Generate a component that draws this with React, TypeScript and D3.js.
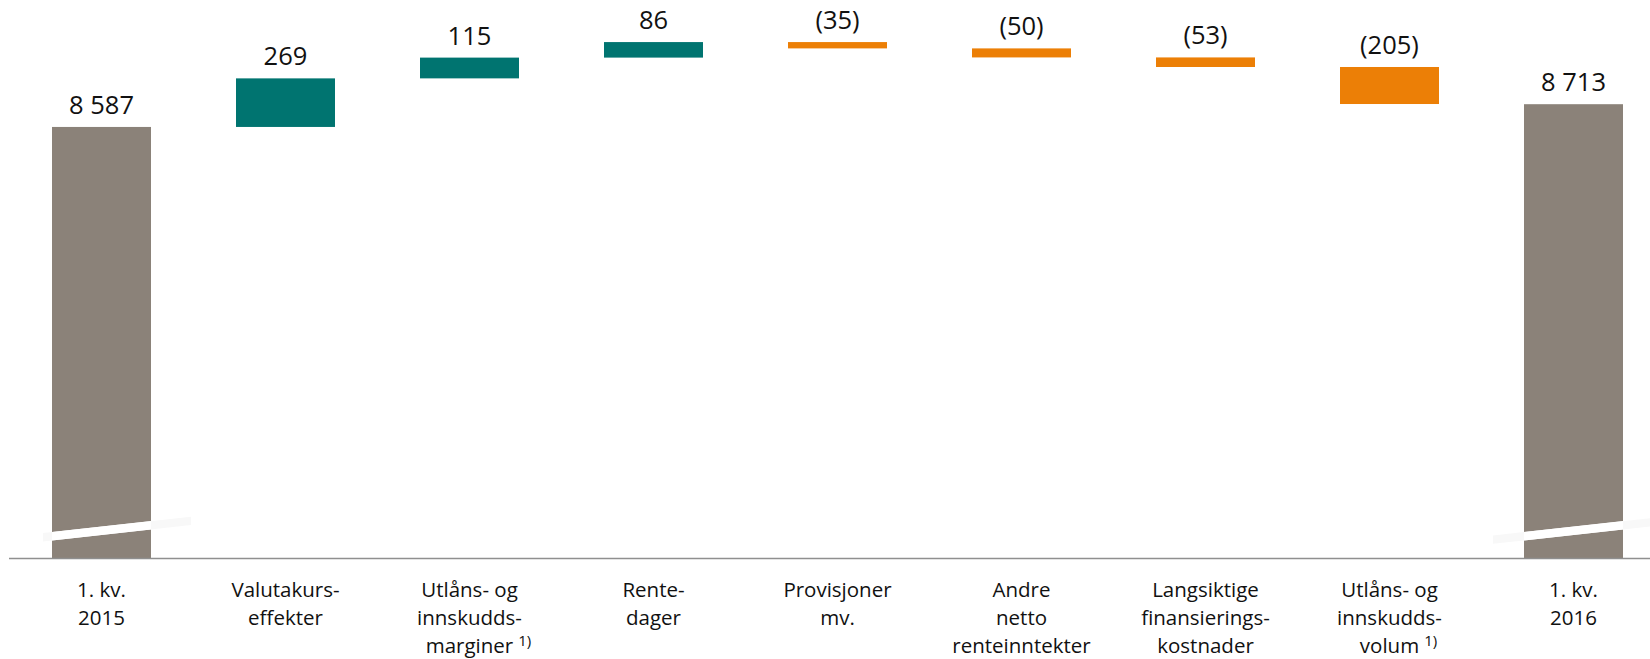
import React, { useRef, useEffect } from "react";
import * as d3 from "d3";

const categories: string[][] = [
  ["1. kv.", "2015"],
  ["Valutakurs-", "effekter"],
  ["Utlåns- og", "innskudds-", "marginer"],
  ["Rente-", "dager"],
  ["Provisjoner", "mv."],
  ["Andre", "netto", "renteinntekter"],
  ["Langsiktige", "finansierings-", "kostnader"],
  ["Utlåns- og", "innskudds-", "volum"],
  ["1. kv.", "2016"],
];
const footnotes = ["", "", "1)", "", "", "", "", "1)", ""];
const barTypes = ["total", "delta", "delta", "delta", "delta", "delta", "delta", "delta", "total"];
const values = [8587, 269, 115, 86, -35, -50, -53, -205, 8713];
const valueLabels = ["8 587", "269", "115", "86", "(35)", "(50)", "(53)", "(205)", "8 713"];
const yDomain = [6200, 9290];

const W = 1650;
const H = 659;
const FONT = "'Open Sans', 'Noto Sans', sans-serif";
const C_TOTAL = "#8b8279";
const C_UP = "#007470";
const C_DOWN = "#ec7f06";

export default function App() {
  const ref = useRef<SVGSVGElement>(null);
  useEffect(() => {
    const svg = d3.select(ref.current);
    svg.selectAll("*").remove();
    const keys = categories.map((c, i) => String(i));
    const x = d3.scaleBand<string>().domain(keys).range([52, 1623]).paddingInner(0.462).paddingOuter(0);
    const y = d3.scaleLinear().domain(yDomain).range([558, 0]);
    const bw = x.bandwidth();

    let run = 0;
    const bars = values.map((v, i) => {
      let y0: number, y1: number;
      if (barTypes[i] === "total") {
        y0 = yDomain[0];
        y1 = v;
        run = v;
      } else {
        y0 = run;
        y1 = run + v;
        run += v;
      }
      const color = barTypes[i] === "total" ? C_TOTAL : v >= 0 ? C_UP : C_DOWN;
      return { i, key: keys[i], y0, y1, color, label: valueLabels[i] };
    });

    const g = svg.append("g");
    g.selectAll("rect.bar")
      .data(bars)
      .join("rect")
      .attr("class", "bar")
      .attr("x", (d) => x(d.key)!)
      .attr("width", bw)
      .attr("y", (d) => y(Math.max(d.y0, d.y1)))
      .attr("height", (d) => Math.abs(y(d.y0) - y(d.y1)))
      .attr("fill", (d) => d.color);

    // axis break marks on total bars
    const base = y(yDomain[0]);
    const slope = -0.11;
    const totals = bars.filter((d) => barTypes[d.i] === "total");
    totals.forEach((d, k) => {
      const L = x(d.key)!;
      const R = L + bw;
      const top = (px: number) => base - 26 + slope * (px - L);
      const bot = (px: number) => base - 17.6 + slope * (px - L);
      const ext = k === 0 ? [L - 9, R + 40] : [L - 31, W];
      const poly = (a: number, b: number) =>
        [[a, top(a)], [b, top(b)], [b, bot(b)], [a, bot(a)]].map((p) => p.join(",")).join(" ");
      g.append("polygon").attr("points", poly(ext[0], ext[1])).attr("fill", "#f8f8f8");
      g.append("polygon").attr("points", poly(L, R)).attr("fill", "#ffffff");
    });

    // baseline
    g.append("line")
      .attr("x1", 9)
      .attr("x2", W)
      .attr("y1", base + 0.5)
      .attr("y2", base + 0.5)
      .attr("stroke", "#8f8f8f")
      .attr("stroke-width", 1.4);

    // value labels
    g.selectAll("text.val")
      .data(bars)
      .join("text")
      .attr("class", "val")
      .attr("x", (d) => x(d.key)! + bw / 2)
      .attr("y", (d) => y(Math.max(d.y0, d.y1)) - 13)
      .attr("text-anchor", "middle")
      .attr("font-family", FONT)
      .attr("font-size", 25.5)
      .attr("fill", "#111")
      .text((d) => d.label);

    // category labels
    categories.forEach((lines, i) => {
      const cx = x(keys[i])! + bw / 2;
      lines.forEach((line, j) => {
        const t = g
          .append("text")
          .attr("x", cx)
          .attr("y", 597 + j * 28)
          .attr("text-anchor", "middle")
          .attr("font-family", FONT)
          .attr("font-size", 20.5)
          .attr("fill", "#111")
          .text(line);
        if (footnotes[i] && j === lines.length - 1) {
          const w = (t.node() as SVGTextElement).getComputedTextLength();
          g.append("text")
            .attr("x", cx + w / 2 + 5)
            .attr("y", 597 + j * 28 - 7)
            .attr("font-family", FONT)
            .attr("font-size", 15)
            .attr("fill", "#111")
            .text(footnotes[i]);
        }
      });
    });
  }, []);
  return (
    <svg
      ref={ref}
      width={W}
      height={H}
      style={{ position: "absolute", left: 0, top: 0, background: "#fff" }}
    />
  );
}
